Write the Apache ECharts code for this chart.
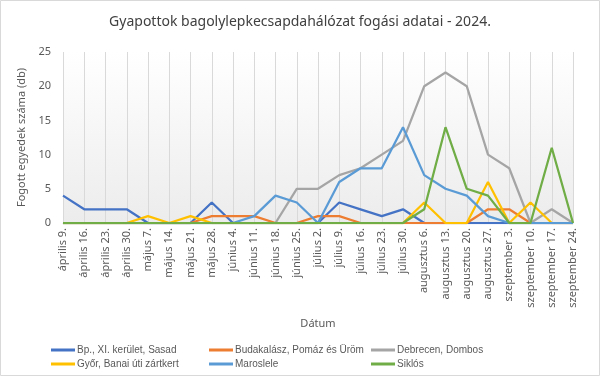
<!DOCTYPE html>
<html>
<head>
<meta charset="utf-8">
<script src="https://cdn.jsdelivr.net/npm/echarts@6/dist/echarts.min.js"></script>
<style>
  html, body { margin: 0; padding: 0; background: #fff; }
  #chart { width: 600px; height: 376px; }
</style>
</head>
<body>
<div id="chart"></div>
<script>
const title = 'Gyapottok bagolylepkecsapdahálózat fogási adatai - 2024.'
const dates = ['április 9.', 'április 16.', 'április 23.', 'április 30.', 'május 7.', 'május 14.', 'május 21.',
  'május 28.', 'június 4.', 'június 11.', 'június 18.', 'június 25.', 'július 2.', 'július 9.', 'július 16.',
  'július 23.', 'július 30.', 'augusztus 6.', 'augusztus 13.', 'augusztus 20.', 'augusztus 27.',
  'szeptember 3.', 'szeptember 10.', 'szeptember 17.', 'szeptember 24.']
const sasad = [4, 2, 2, 2, 0, 0, 0, 3, 0, 0, 0, 0, 0, 3, 2, 1, 2, 0, 0, 0, 0, 0, 0, 0, 0]
const budakalasz = [0, 0, 0, 0, 0, 0, 0, 1, 1, 1, 0, 0, 1, 1, 0, 0, 0, 0, 0, 0, 2, 2, 0, 0, 0]
const debrecen = [0, 0, 0, 0, 0, 0, 0, 0, 0, 0, 0, 5, 5, 7, 8, 10, 12, 20, 22, 20, 10, 8, 0, 2, 0]
const gyor = [0, 0, 0, 0, 1, 0, 1, 0, 0, 0, 0, 0, 0, 0, 0, 0, 0, 3, 0, 0, 6, 0, 3, 0, 0]
const maroslele = [0, 0, 0, 0, 0, 0, 0, 0, 0, 1, 4, 3, 0, 6, 8, 8, 14, 7, 5, 4, 1, 0, 0, 0, 0]
const siklos = [0, 0, 0, 0, 0, 0, 0, 0, 0, 0, 0, 0, 0, 0, 0, 0, 0, 2, 14, 5, 4, 0, 0, 11, 0]
const yTicks = [0, 5, 10, 15, 20, 25]

const names = ['Bp., XI. kerület, Sasad', 'Budakalász, Pomáz és Üröm', 'Debrecen, Dombos',
  'Győr, Banai úti zártkert', 'Maroslele', 'Siklós']
const colors = ['#4472C4', '#ED7D31', '#A5A5A5', '#FFC000', '#5B9BD5', '#70AD47']
const values = [sasad, budakalasz, debrecen, gyor, maroslele, siklos]

const font = 'Noto Sans'
const grey = '#595959'

const chart = echarts.init(document.getElementById('chart'))

// excel puts the legend in a 3 column grid, so one vertical legend per column
function legend(left, data) {
  return {
    left, top: 340, orient: 'vertical', itemGap: 4,
    itemWidth: 24, itemHeight: 3, icon: 'rect',
    data,
    textStyle: { fontSize: 10, color: grey, fontFamily: 'Liberation Sans', padding: [0, 0, 0, -3] }
  }
}

chart.setOption({
  animation: false,
  color: colors,
  title: {
    text: title, left: 'center', top: 10,
    textStyle: { fontSize: 14, fontWeight: 'normal', color: '#404040', fontFamily: font }
  },
  graphic: [{
    type: 'rect', shape: { x: 0.5, y: 0.5, width: 599, height: 375 },
    style: { fill: 'none', stroke: '#d9d9d9', lineWidth: 1 }, silent: true
  }],
  legend: [
    legend(46, [names[0], names[3]]),
    legend(204, [names[1], names[4]]),
    legend(366, [names[2], names[5]])
  ],
  grid: {
    left: 63, right: 27, top: 52, bottom: 153, show: true, borderWidth: 0,
    backgroundColor: new echarts.graphic.LinearGradient(0, 0, 0, 1, [
      { offset: 0, color: '#ffffff' }, { offset: 1, color: '#ececec' }
    ])
  },
  xAxis: {
    type: 'category', data: dates, boundaryGap: false,
    name: 'Dátum', nameLocation: 'middle', nameGap: 95,
    nameTextStyle: { fontSize: 11, color: grey, fontFamily: font },
    axisLine: { lineStyle: { color: '#d9d9d9' } },
    axisTick: { show: false },
    splitLine: { show: true, lineStyle: { color: '#d9d9d9' } },
    axisLabel: { interval: 0, rotate: 90, fontSize: 11, color: grey, fontFamily: font, margin: 5 }
  },
  yAxis: {
    type: 'value', min: yTicks[0], max: yTicks[yTicks.length - 1], interval: 5,
    name: 'Fogott egyedek száma (db)', nameLocation: 'middle', nameGap: 34,
    nameTextStyle: { fontSize: 11, color: grey, fontFamily: font },
    axisLine: { show: false }, axisTick: { show: false },
    splitLine: { show: false },
    axisLabel: { fontSize: 11, color: grey, fontFamily: font, margin: 12 }
  },
  series: names.map((n, i) => ({
    name: n, type: 'line', data: values[i], showSymbol: false, symbol: 'none',
    lineStyle: { width: 2.25, color: colors[i] }, itemStyle: { color: colors[i] }
  }))
})
</script>
</body>
</html>
